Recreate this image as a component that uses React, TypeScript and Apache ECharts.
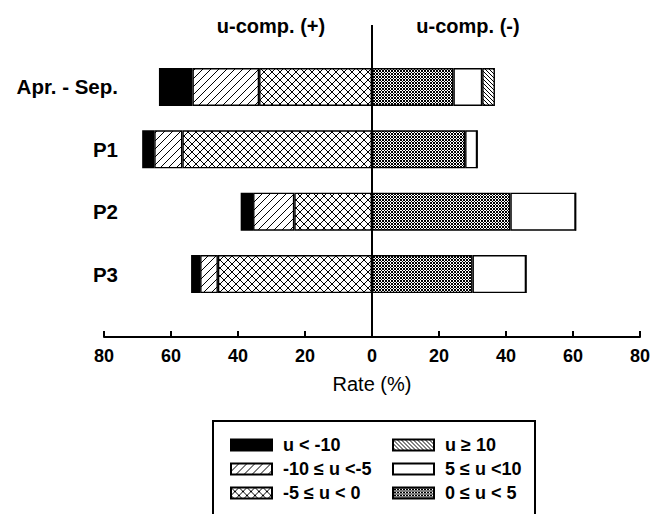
import React, { useEffect, useRef } from 'react';
import * as echarts from 'echarts';

// ---- data ----
const categories = ['Apr. - Sep.', 'P1', 'P2', 'P3'];
// left side (u-comp. +), magnitudes in %
const ltMinus10 = [10.0, 3.6, 3.7, 2.7]; // u < -10
const minus10to5 = [19.9, 8.4, 12.3, 5.3]; // -10 ≤ u <-5
const minus5to0 = [33.7, 56.6, 23.2, 46.0]; // -5 ≤ u < 0
// right side (u-comp. -)
const zeroTo5 = [24.3, 27.8, 41.3, 30.0]; // 0 ≤ u < 5
const fiveTo10 = [8.6, 3.6, 19.5, 16.0]; // 5 ≤ u <10
const geTen = [3.8, 0, 0, 0]; // u ≥ 10

const legendLeft = ['u < -10', '-10 ≤ u <-5', '-5 ≤ u < 0'];
const legendRight = ['u ≥ 10', '5 ≤ u <10', '0 ≤ u < 5'];

const FONT = '"Liberation Sans", Arial, Helvetica, sans-serif';

function makePattern(size: number, test: (x: number, y: number) => boolean) {
  const c = document.createElement('canvas');
  c.width = size;
  c.height = size;
  const ctx = c.getContext('2d')!;
  const img = ctx.createImageData(size, size);
  for (let y = 0; y < size; y++) {
    for (let x = 0; x < size; x++) {
      const i = (y * size + x) * 4;
      const v = test(x, y) ? 0 : 255;
      img.data[i] = v;
      img.data[i + 1] = v;
      img.data[i + 2] = v;
      img.data[i + 3] = 255;
    }
  }
  ctx.putImageData(img, 0, 0);
  return { image: c.toDataURL(), repeat: 'repeat', imageWidth: size, imageHeight: size };
}

const mod = (a: number, n: number) => ((a % n) + n) % n;

export default function App() {
  const ref = useRef<HTMLDivElement>(null);
  useEffect(() => {
    const chart = echarts.init(ref.current!, null, { renderer: 'svg' });

    const patSlash = makePattern(8, (x, y) => mod(x + y, 8) === 7);
    const patCross = makePattern(8, (x, y) => mod(x + y, 8) === 7 || mod(x - y, 8) === 0);
    const patDense = makePattern(3, (x, y) => mod(x + y, 3) === 0 || mod(x - y, 3) === 0);
    const patBack = makePattern(4, (x, y) => mod(x - y, 4) === 0);

    const defs = [
      { name: '-5 ≤ u < 0', values: minus5to0, sign: -1, color: patCross },
      { name: '-10 ≤ u <-5', values: minus10to5, sign: -1, color: patSlash },
      { name: 'u < -10', values: ltMinus10, sign: -1, color: '#000' },
      { name: '0 ≤ u < 5', values: zeroTo5, sign: 1, color: patDense },
      { name: '5 ≤ u <10', values: fiveTo10, sign: 1, color: '#fff' },
      { name: 'u ≥ 10', values: geTen, sign: 1, color: patBack },
    ];

    const series = defs.map((d) => ({
      type: 'bar',
      name: d.name,
      stack: 'all',
      stackStrategy: 'samesign',
      barWidth: 38,
      data: d.values.map((v) => d.sign * v),
      itemStyle: { color: d.color, borderColor: '#000', borderWidth: 1.4 },
      emphasis: { disabled: true },
      silent: true,
    }));

    const legendText = {
      fontSize: 18,
      fontWeight: 'bold',
      color: '#000',
      lineHeight: 18,
      padding: [0, 0, 0, 6],
      fontFamily: FONT,
    };

    const gridBottomPx = 305.2;
    const axisOffset = 31.8;

    chart.setOption({
      animation: false,
      textStyle: { fontFamily: FONT },
      grid: { left: 104, right: 25, top: 55.8, bottom: 514 - gridBottomPx },
      xAxis: {
        type: 'value',
        min: -80,
        max: 80,
        interval: 20,
        position: 'bottom',
        offset: axisOffset,
        axisLine: { show: true, onZero: false, lineStyle: { color: '#000', width: 2 } },
        axisTick: { show: true, inside: true, length: 6, lineStyle: { color: '#000', width: 2 } },
        axisLabel: {
          formatter: (v: number) => String(Math.abs(v)),
          color: '#000',
          fontWeight: 'bold',
          fontSize: 18,
          margin: 10,
          fontFamily: FONT,
        },
        splitLine: { show: false },
        name: 'Rate (%)',
        nameLocation: 'middle',
        nameGap: 37,
        nameTextStyle: { fontSize: 20, color: '#000', fontFamily: FONT },
      },
      yAxis: {
        type: 'category',
        data: categories,
        inverse: true,
        axisLine: { show: false, onZero: false },
        axisTick: { show: false },
        splitLine: { show: false },
        axisLabel: { color: '#000', fontWeight: 'bold', fontSize: 20.5, margin: -14, fontFamily: FONT },
      },
      legend: [
        {
          data: legendLeft,
          orient: 'vertical',
          left: 230,
          top: 436,
          padding: 0,
          itemWidth: 41,
          itemHeight: 11,
          itemGap: 6,
          icon: 'rect',
          selectedMode: false,
          textStyle: legendText,
        },
        {
          data: legendRight,
          orient: 'vertical',
          left: 392,
          top: 436,
          padding: 0,
          itemWidth: 41,
          itemHeight: 11,
          itemGap: 6,
          icon: 'rect',
          selectedMode: false,
          textStyle: legendText,
        },
      ],
      series,
    });

    const x0 = chart.convertToPixel({ xAxisIndex: 0 }, 0) as number;
    const axisY = gridBottomPx + axisOffset;

    chart.setOption({
      graphic: [
        {
          type: 'line',
          z: 100,
          shape: { x1: x0, y1: 25, x2: x0, y2: axisY },
          style: { stroke: '#000', lineWidth: 2 },
        },
        {
          type: 'text',
          x: 271,
          y: 26,
          style: {
            text: 'u-comp. (+)',
            fontSize: 20,
            fontWeight: 'bold',
            fontFamily: FONT,
            fill: '#000',
            align: 'center',
            verticalAlign: 'middle',
          },
        },
        {
          type: 'text',
          x: 468,
          y: 26,
          style: {
            text: 'u-comp. (-)',
            fontSize: 20,
            fontWeight: 'bold',
            fontFamily: FONT,
            fill: '#000',
            align: 'center',
            verticalAlign: 'middle',
          },
        },
        {
          type: 'rect',
          shape: { x: 213, y: 421, width: 322, height: 100 },
          style: { fill: 'none', stroke: '#000', lineWidth: 2 },
        },
      ],
    });

    return () => chart.dispose();
  }, []);

  return (
    <div
      ref={ref}
      style={{ position: 'absolute', left: 0, top: 0, width: 665, height: 514, background: '#fff' }}
    />
  );
}
